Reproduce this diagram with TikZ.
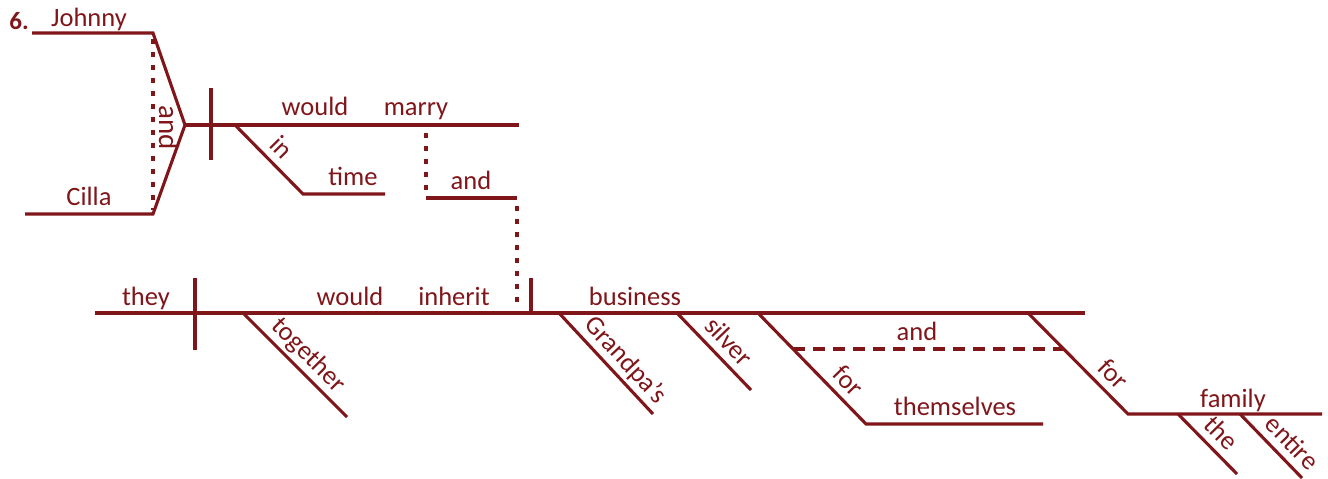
\documentclass[tikz,border=0pt]{standalone}
\usepackage{fontspec}
\setmainfont{Carlito}
\definecolor{dkred}{RGB}{128,22,26}
% lift a slanted word off its line, in the word's own frame
\newcommand{\liftword}[1]{\raisebox{9pt}{#1}}
\begin{document}
\begin{tikzpicture}[x=1pt,y=-1pt,
  ink/.style={draw=dkred, line width=3.1pt},
  dotline/.style={draw=dkred, line width=3.2pt, dash pattern=on 4.5pt off 8.5pt},
  dashline/.style={draw=dkred, line width=3.3pt, dash pattern=on 12pt off 8pt},
  word/.style={text=dkred, font=\fontsize{26.5}{30}\selectfont, inner sep=0pt, anchor=base},
  slant/.style={text=dkred, font=\fontsize{26.5}{30}\selectfont, sloped, anchor=base, inner sep=0pt}]
\useasboundingbox (0,0) rectangle (1328,479);

% item number
\node[text=dkred, font=\fontsize{25}{28}\selectfont\bfseries, anchor=base] (num) at (19,29) {6.};

% compound subject: Johnny and Cilla
\coordinate (jl) at (32,33);  \coordinate (jr) at (153,33);
\coordinate (cl) at (25,214); \coordinate (cr) at (153,214);
\coordinate (apex) at (185,125);
\draw[ink, line join=miter] (jl) -- (jr) -- (apex) -- (cr) -- (cl);
\draw[dotline] ([yshift=-6pt]jr) -- ([yshift=4pt]cr);
\node[word] (johnny) at (89,26) {Johnny};
\node[word] (cilla) at (89,205) {Cilla};
\node[text=dkred, font=\fontsize{29}{32}\selectfont, inner sep=0pt, rotate=-90] (and1) at (169,128) {and};

% upper clause baseline
\coordinate (m1e) at (519,125);
\draw[ink] (apex) -- (m1e);
\coordinate (d1t) at (211,88); \coordinate (d1b) at (211,160);
\draw[ink] (d1t) -- (d1b);
\node[word] (would1) at (315,115) {would};
\node[word] (marry) at (416,115) {marry};

% in time
\coordinate (in0) at (235,125); \coordinate (in1) at (303,194); \coordinate (in2) at (385,194);
\draw[ink] (in0) -- node[slant, pos=0.5] (in) {\liftword{in}} (in1) -- (in2);
\node[word] (time) at (353,185) {time};

% connecting "and"
\coordinate (c1t) at (426,125); \coordinate (c1b) at (426,198);
\coordinate (c2t) at (517,198); \coordinate (c2b) at (517,313);
\draw[dotline] ([yshift=-8pt]c1t) -- ([yshift=5pt]c1b);
\draw[ink] (c1b) -- (c2t);
\draw[dotline] ([yshift=-8pt]c2t) -- ([yshift=5pt]c2b);
\node[word] (and2) at (471,189) {and};

% lower clause baseline
\coordinate (m2s) at (95,313); \coordinate (m2e) at (1085,313);
\draw[ink] (m2s) -- (m2e);
\coordinate (d2t) at (195,278); \coordinate (d2b) at (195,350);
\draw[ink] (d2t) -- (d2b);
\coordinate (d3t) at (531,278); \coordinate (d3b) at (531,313);
\draw[ink] (d3t) -- (d3b);
\node[word] (they) at (146,305) {they};
\node[word] (would2) at (350,305) {would};
\node[word] (inherit) at (454,305) {inherit};
\node[word] (business) at (635,305) {business};

% modifiers
\coordinate (tg0) at (243,313); \coordinate (tg1) at (347,417);
\draw[ink] (tg0) -- node[slant, pos=0.52] (together) {\liftword{together}} (tg1);
\coordinate (gp0) at (559,313); \coordinate (gp1) at (653,414);
\draw[ink] (gp0) -- node[slant, pos=0.58] (grandpas) {\liftword{Grandpa’s}} (gp1);
\coordinate (sv0) at (677,313); \coordinate (sv1) at (751,390);
\draw[ink] (sv0) -- node[slant, pos=0.53] (silver) {\liftword{silver}} (sv1);

% for themselves
\coordinate (f10) at (758,313); \coordinate (f11) at (866,424); \coordinate (f12) at (1043,424);
\draw[ink] (f10) -- node[slant, pos=0.72] (for1) {\liftword{for}} (f11) -- (f12);
\node[word] (themselves) at (955,415) {themselves};

% for the entire family
\coordinate (f20) at (1028,313); \coordinate (f21) at (1128,414); \coordinate (f22) at (1322,414);
\draw[ink] (f20) -- node[slant, pos=0.73] (for2) {\liftword{for}} (f21) -- (f22);
\node[word] (family) at (1233,407) {family};
\coordinate (th0) at (1178,414); \coordinate (th1) at (1237,474);
\draw[ink] (th0) -- node[slant, pos=0.52] (the) {\liftword{the}} (th1);
\coordinate (en0) at (1240,414); \coordinate (en1) at (1302,478);
\draw[ink] (en0) -- node[slant, pos=0.64] (entire) {\liftword{entire}} (en1);

% compound "and" between the two phrases
\coordinate (ds) at (793,349); \coordinate (de) at (1064,349);
\draw[dashline] (ds) -- (de);
\node[word] (and3) at (917,340) {and};
\end{tikzpicture}
\end{document}
